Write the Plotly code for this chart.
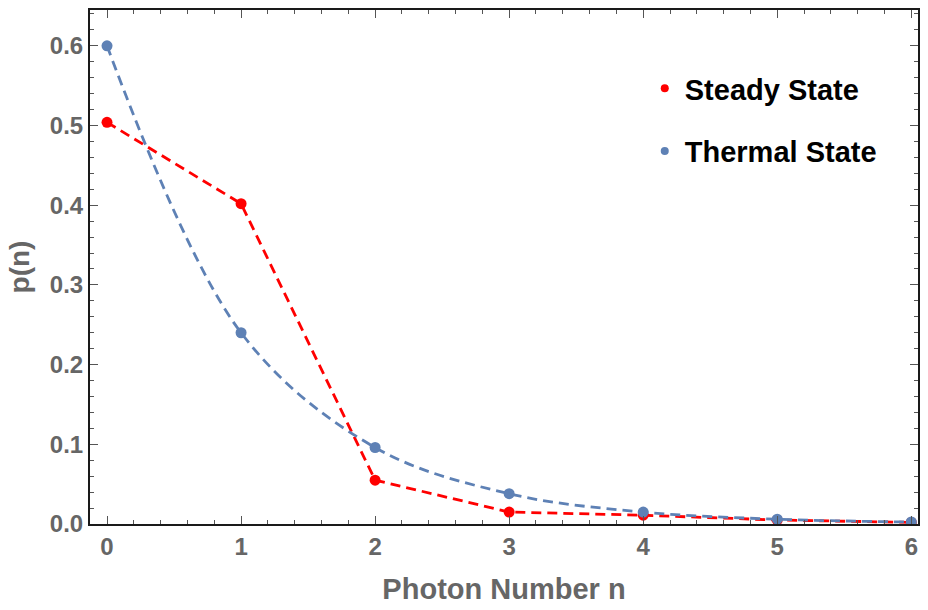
import plotly.graph_objects as go

n_values = [0, 1, 2, 3, 4, 5, 6]
steady_state = [0.504, 0.402, 0.055, 0.015, 0.011, 0.005, 0.002]
thermal_state = [0.600, 0.240, 0.096, 0.038, 0.015, 0.006, 0.0025]
series_names = ["Steady State", "Thermal State"]

RED = "#FF0000"
BLUE = "#5E81B5"
GRAY = "#666666"
FONT = "Liberation Sans"

fig = go.Figure()
fig.add_trace(go.Scatter(x=n_values, y=steady_state, mode="lines+markers",
                         line=dict(color=RED, width=2.8, dash="10px,6px"),
                         marker=dict(color=RED, size=11), showlegend=False))
fig.add_trace(go.Scatter(x=n_values, y=thermal_state, mode="lines+markers",
                         line=dict(color=BLUE, width=2.8, dash="10px,6px", shape="spline", smoothing=1.0),
                         marker=dict(color=BLUE, size=11), showlegend=False))
# legend entries (dots only)
for name, col in zip(series_names, [RED, BLUE]):
    fig.add_trace(go.Scatter(x=[None], y=[None], mode="markers", name=name,
                             legendgroup=name,
                             marker=dict(color=col, size=8)))

axis_common = dict(
    showline=True, linecolor="#1a1a1a", linewidth=2, mirror="allticks",
    ticks="inside", ticklen=8, tickwidth=1.2, tickcolor="#555555",
    showgrid=False, zeroline=False,
    tickfont=dict(family=FONT, size=24, color=GRAY, weight="bold"),
)

fig.update_xaxes(range=[-0.127, 6.05], tickvals=n_values,
                 minor=dict(dtick=0.2, ticks="inside", ticklen=4, tickcolor="#555555"),
                 title=dict(text="Photon Number n", font=dict(family=FONT, size=29, color=GRAY, weight="bold"), standoff=20),
                 **axis_common)
fig.update_yaxes(range=[0, 0.645], tickvals=[0, 0.1, 0.2, 0.3, 0.4, 0.5, 0.6],
                 ticktext=["0.0", "0.1", "0.2", "0.3", "0.4", "0.5", "0.6"],
                 minor=dict(dtick=0.02, ticks="inside", ticklen=4, tickcolor="#555555"),
                 title=dict(text="p(n)", font=dict(family=FONT, size=28, color=GRAY, weight="bold"), standoff=12),
                 **axis_common)

fig.update_layout(
    width=928, height=610,
    margin=dict(l=90, r=8, t=8, b=86),
    paper_bgcolor="white", plot_bgcolor="white",
    legend=dict(x=0.67, y=0.897, xanchor="left", yanchor="top",
                font=dict(family=FONT, size=29, color="black", weight="bold"),
                tracegroupgap=22, bgcolor="rgba(0,0,0,0)", itemwidth=30),
)

fig.write_html("out.html")
